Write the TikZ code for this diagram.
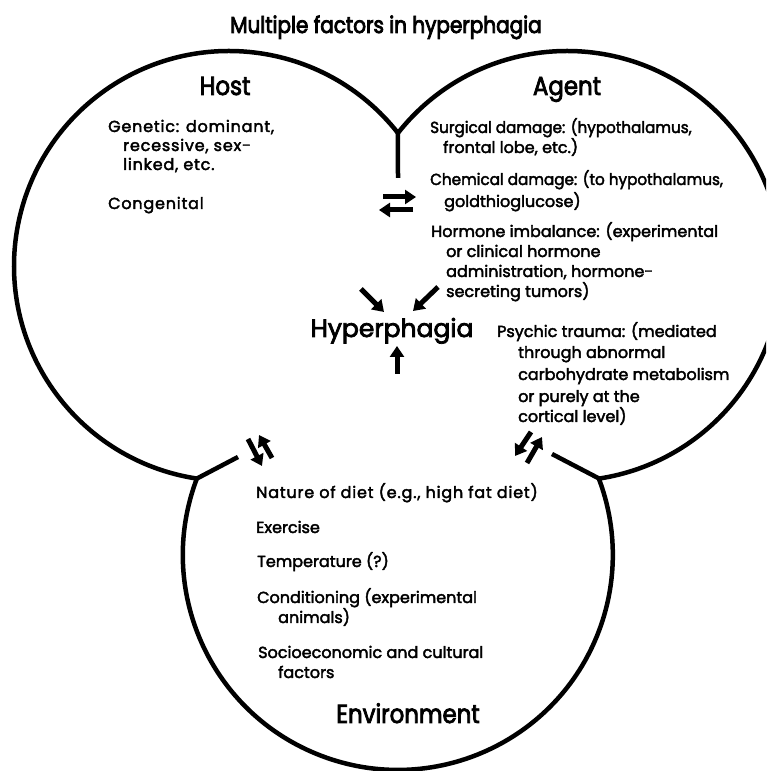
\documentclass[tikz,border=0pt]{standalone}
\usepackage{fontspec}
\setmainfont{Poppins}
\newfontfamily\fbody{Poppins}[FakeBold=2.5]
\newfontfamily\fnarrow{Poppins}[FakeBold=2.5, FakeStretch=0.95]
\newfontfamily\fhost{Poppins}[FakeBold=2.5, LetterSpace=5]
\newfontfamily\fhead{Poppins}[FakeBold=3, FakeStretch=0.88]
\newfontfamily\fhyper{Poppins}[FakeBold=3]
\newfontfamily\ftitle{Poppins}[FakeBold=3.5, FakeStretch=0.87]
\usetikzlibrary{arrows.meta}
\tikzset{
  ring/.style={line width=4.5pt, line cap=butt},
  spoke/.style={line width=4.5pt},
  fat/.style={line width=5pt, -{Triangle[width=14pt,length=11pt]}},
  body/.style={anchor=base west, inner sep=0pt, font=\fbody\fontsize{16}{19}\selectfont},
  nbody/.style={anchor=base west, inner sep=0pt, font=\fnarrow\fontsize{16}{19}\selectfont},
  hbody/.style={anchor=base west, inner sep=0pt, font=\fhost\fontsize{16}{19}\selectfont},
  head/.style={anchor=base, inner sep=0pt, font=\fhead\fontsize{26}{30}\selectfont},
  hyp/.style={anchor=base, inner sep=0pt, font=\fhyper\fontsize{25}{30}\selectfont},
  ttl/.style={anchor=base, inner sep=0pt, font=\ftitle\fontsize{23}{27}\selectfont},
}
\begin{document}
\begin{tikzpicture}[x=1pt,y=1pt]
\useasboundingbox (0,0) rectangle (766,771);
\fill[white] (0,0) rectangle (766,771);
\begin{scope}
\clip (0,0) rectangle (766,771);
% circle centres
\coordinate (H) at (229,505);
\coordinate (A) at (567,505);
\coordinate (E) at (398,216);
% junctions
\path (H) ++(38.2:215) coordinate (T);
\path (H) ++(261.4:215) coordinate (L);
\path (A) ++(-81.4:215) coordinate (R);
\draw[ring] (T) arc[start angle=38.2, end angle=261.4, radius=215];
\draw[ring] (T) arc[start angle=141.8, end angle=-81.4, radius=215];
\draw[ring] (L) arc[start angle=159.2, end angle=380.8, radius=215];
\end{scope}
% spokes
\coordinate (Ts) at (398,593);
\coordinate (Ls) at (238,314);
\coordinate (Rs) at (552,317);
\draw[spoke] (T) -- (Ts);
\draw[spoke] (L) -- (Ls);
\draw[spoke] (R) -- (Rs);
% arrows
\coordinate (a1s) at (383,574); \coordinate (a1e) at (416,574);
\coordinate (a2s) at (413,561); \coordinate (a2e) at (379,561);
\coordinate (a3s) at (361,482); \coordinate (a3e) at (384,459);
\coordinate (a4s) at (438,484); \coordinate (a4e) at (413,460);
\coordinate (a5s) at (397,397); \coordinate (a5e) at (397,425);
\coordinate (a6s) at (248,332); \coordinate (a6e) at (262,305);
\coordinate (a7s) at (272,313); \coordinate (a7e) at (259,336);
\coordinate (a8s) at (531,339); \coordinate (a8e) at (515,315);
\coordinate (a9s) at (527,308); \coordinate (a9e) at (542,334);
\foreach \i in {1,...,9} \draw[fat] (a\i s) -- (a\i e);
% titles
\node[ttl] (title) at (386,738) {Multiple factors in hyperphagia};
\node[head] (host) at (225,676) {Host};
\node[head] (agent) at (567,676) {Agent};
\node[hyp] (hyper) at (392,434) {Hyperphagia};
\node[head] (env) at (408,48) {Environment};
% host texts
\node[hbody] (h1) at (108,639) {Genetic: dominant,};
\node[hbody] (h2) at (123,620) {recessive, sex-};
\node[hbody] (h3) at (123,601) {linked, etc.};
\node[hbody] (h4) at (108,562) {Congenital};
% agent texts
\node[nbody] (g1) at (430,638) {Surgical damage: (hypothalamus,};
\node[body] (g2) at (443,618) {frontal lobe, etc.)};
\node[nbody] (g3) at (430,586) {Chemical damage: (to hypothalamus,};
\node[body] (g4) at (444,564) {goldthioglucose)};
\node[body] (g5) at (431,534) {Hormone imbalance: (experimental};
\node[body] (g6) at (446,514) {or clinical hormone};
\node[body] (g7) at (446,494) {administration, hormone-};
\node[body] (g8) at (446,474) {secreting tumors)};
\node[body] (g9) at (497,434) {Psychic trauma: (mediated};
\node[body] (g10) at (518,413) {through abnormal};
\node[body] (g11) at (518,391) {carbohydrate metabolism};
\node[body] (g12) at (518,369) {or purely at the};
\node[body] (g13) at (518,349) {cortical level)};
% environment texts
\node[hbody] (e1) at (256,273) {Nature of diet (e.g., high fat diet)};
\node[body] (e2) at (256,238) {Exercise};
\node[body] (e3) at (257,204) {Temperature (?)};
\node[body] (e4) at (257,168) {Conditioning (experimental};
\node[body] (e5) at (278,148) {animals)};
\node[body] (e6) at (258,113) {Socioeconomic and cultural};
\node[body] (e7) at (278,93) {factors};
\end{tikzpicture}
\end{document}
